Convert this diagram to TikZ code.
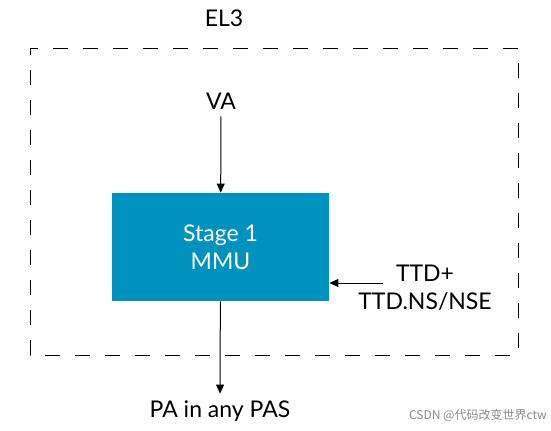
\documentclass[tikz,border=0pt]{standalone}
\usepackage{fontspec}
\setmainfont{Lato}
\newfontfamily\cjk{Noto Sans CJK SC}
\usepackage{xcolor}
\definecolor{mmublue}{HTML}{0091BE}
\definecolor{markgray}{HTML}{8A8A8A}
\usetikzlibrary{arrows.meta}

\begin{document}
\begin{tikzpicture}[x=0.5pt,y=-0.5pt,font=\fontsize{11.5}{14}\selectfont,
    elbox/.style={line width=0.5pt,dash pattern=on 7.5pt off 7.5pt,dash phase=4pt},
    mmubox/.style={fill=mmublue,text=white,align=center,inner sep=0pt,
      minimum width=108.5pt,minimum height=54pt},
    conn/.style={line width=0.5pt,-{Triangle[length=4.5pt,width=4pt]}}]
  \useasboundingbox (0,0) rectangle (551,430);
  % exception level frame
  \draw[elbox] (30,48) rectangle (518,355);
  \node (el3) at (224,18) {EL3};
  % translation stage
  \node (va) at (221,101) {VA};
  \node[mmubox] (mmu) at (220.5,247) {Stage 1\\MMU};
  \node[align=center] (ttd) at (425,288) {TTD+\\TTD.NS/NSE};
  \coordinate (ttdin) at (383,283);
  \node (pa) at (220,411) {PA in any PAS};
  \draw[conn] (va) -- (mmu);
  \draw[conn] (ttdin) -- (mmu.east |- ttdin);
  \draw[conn] (mmu) -- (pa);
  % watermark
  \node[text=markgray,font=\cjk\fontsize{6}{7}\selectfont,anchor=west] (mark) at (402,415) {CSDN @代码改变世界ctw};
\end{tikzpicture}
\end{document}
